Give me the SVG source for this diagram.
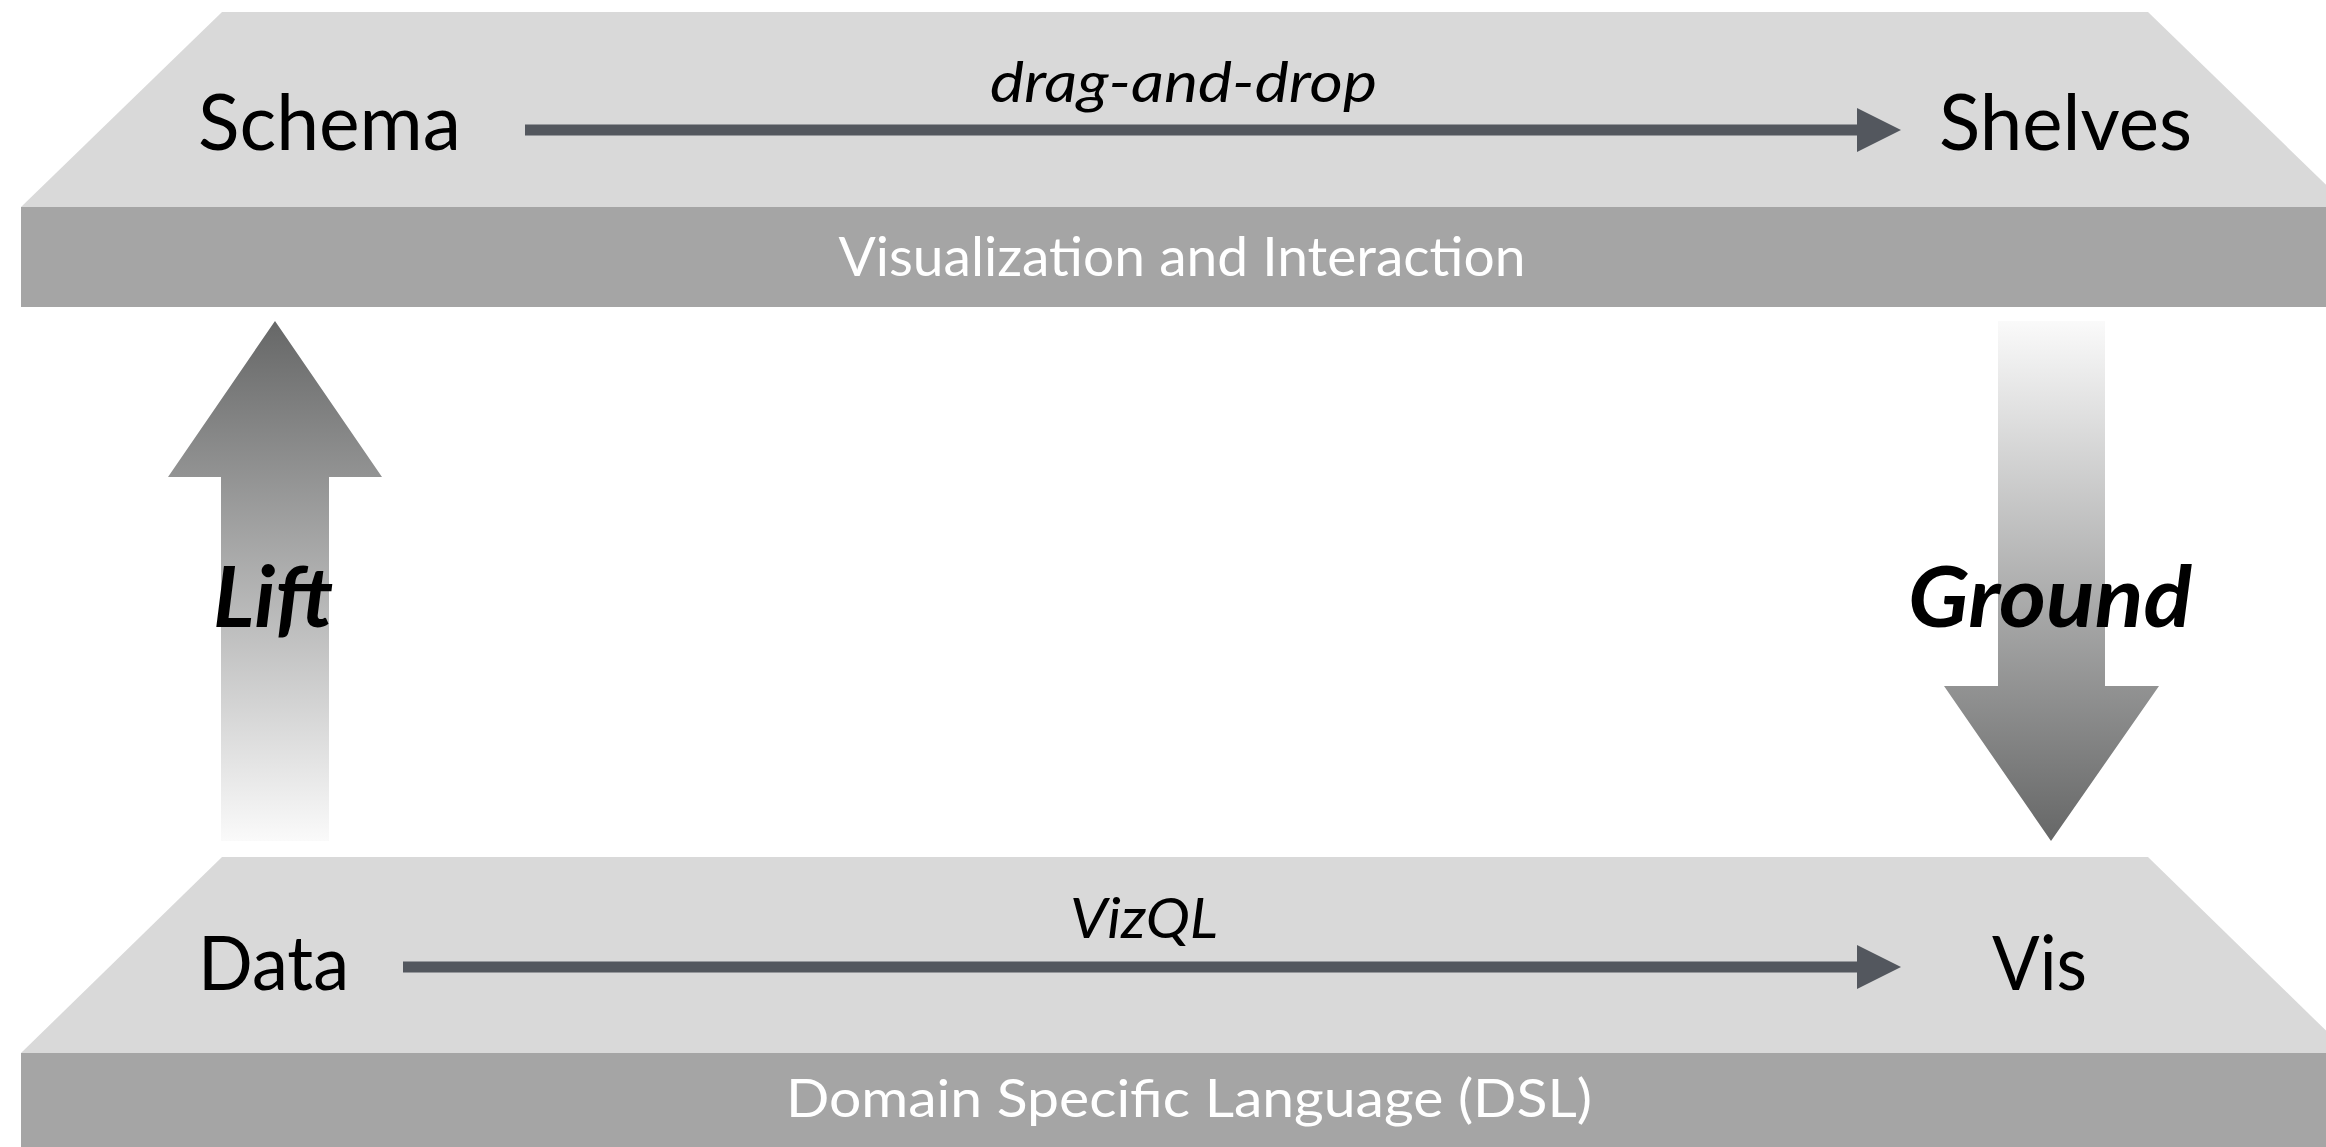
<svg xmlns="http://www.w3.org/2000/svg" width="2326" height="1147" viewBox="0 0 2326 1147">
  <style>
    .top { fill: #d9d9d9; }
    .band { fill: #a5a5a5; }
    .lbl { font-family: Lato, "Noto Sans", "Liberation Sans", sans-serif; fill: #000; }
    .bandlbl { font-family: Lato, "Noto Sans", "Liberation Sans", sans-serif; fill: #fff; text-anchor: middle; }
    .edge { stroke: #53575e; stroke-width: 11; fill: none; }
    .big { font-family: Lato, "Noto Sans", "Liberation Sans", sans-serif; font-weight: bold; font-style: italic; fill: #000; }
  </style>
  <defs>
    <marker id="ah" markerUnits="userSpaceOnUse" markerWidth="44" markerHeight="44" refX="0" refY="22" orient="auto" viewBox="0 0 44 44">
      <path d="M0,0 L44,22 L0,44 Z" fill="#53575e"/>
    </marker>
    <linearGradient id="gUp" gradientUnits="userSpaceOnUse" x1="0" y1="321" x2="0" y2="841">
      <stop offset="0" stop-color="#666767"/>
      <stop offset="1" stop-color="#fafafa"/>
    </linearGradient>
    <linearGradient id="gDown" gradientUnits="userSpaceOnUse" x1="0" y1="321" x2="0" y2="841">
      <stop offset="0" stop-color="#fafafa"/>
      <stop offset="1" stop-color="#666767"/>
    </linearGradient>
  </defs>

  <g id="layer-top">
    <polygon class="top" points="222,12 2148,12 2349,207 21,207"/>
    <rect class="band" x="21" y="207" width="2305" height="100"/>
    <text class="bandlbl" x="1182" y="276" font-size="54" textLength="687" lengthAdjust="spacingAndGlyphs">Visualization and Interaction</text>
  </g>

  <g id="layer-bottom">
    <polygon class="top" points="222,857 2148,857 2349,1053 21,1053"/>
    <rect class="band" x="21" y="1053" width="2305" height="94"/>
    <text class="bandlbl" x="1189" y="1117" font-size="52" textLength="806" lengthAdjust="spacingAndGlyphs">Domain Specific Language (DSL)</text>
  </g>

  <g id="node-schema"><text class="lbl" x="198" y="150" font-size="77" textLength="263" lengthAdjust="spacingAndGlyphs">Schema</text></g>
  <g id="node-shelves"><text class="lbl" x="1939" y="150" font-size="77" textLength="253" lengthAdjust="spacingAndGlyphs">Shelves</text></g>
  <g id="node-data"><text class="lbl" x="198" y="990" font-size="75" textLength="151" lengthAdjust="spacingAndGlyphs">Data</text></g>
  <g id="node-vis"><text class="lbl" x="1992" y="990" font-size="75" textLength="95" lengthAdjust="spacingAndGlyphs">Vis</text></g>

  <g id="connectors">
    <line class="edge" x1="525" y1="130" x2="1857" y2="130" marker-end="url(#ah)"/>
    <text class="lbl" x="990" y="102" font-size="57" font-style="italic" textLength="387" lengthAdjust="spacingAndGlyphs">drag-and-drop</text>
    <line class="edge" x1="403" y1="967" x2="1857" y2="967" marker-end="url(#ah)"/>
    <text class="lbl" x="1070" y="938" font-size="57" font-style="italic" textLength="148" lengthAdjust="spacingAndGlyphs">VizQL</text>

    <g id="lift">
      <polygon fill="url(#gUp)" points="275,321 382,477 329,477 329,841 221,841 221,477 168,477"/>
      <text class="big" x="213" y="627" font-size="85" textLength="120" lengthAdjust="spacingAndGlyphs">Lift</text>
    </g>
    <g id="ground">
      <polygon fill="url(#gDown)" points="1998,321 2105,321 2105,686 2159,686 2051,841 1944,686 1998,686"/>
      <text class="big" x="1908" y="627" font-size="85" textLength="284" lengthAdjust="spacingAndGlyphs">Ground</text>
    </g>
  </g>
</svg>
